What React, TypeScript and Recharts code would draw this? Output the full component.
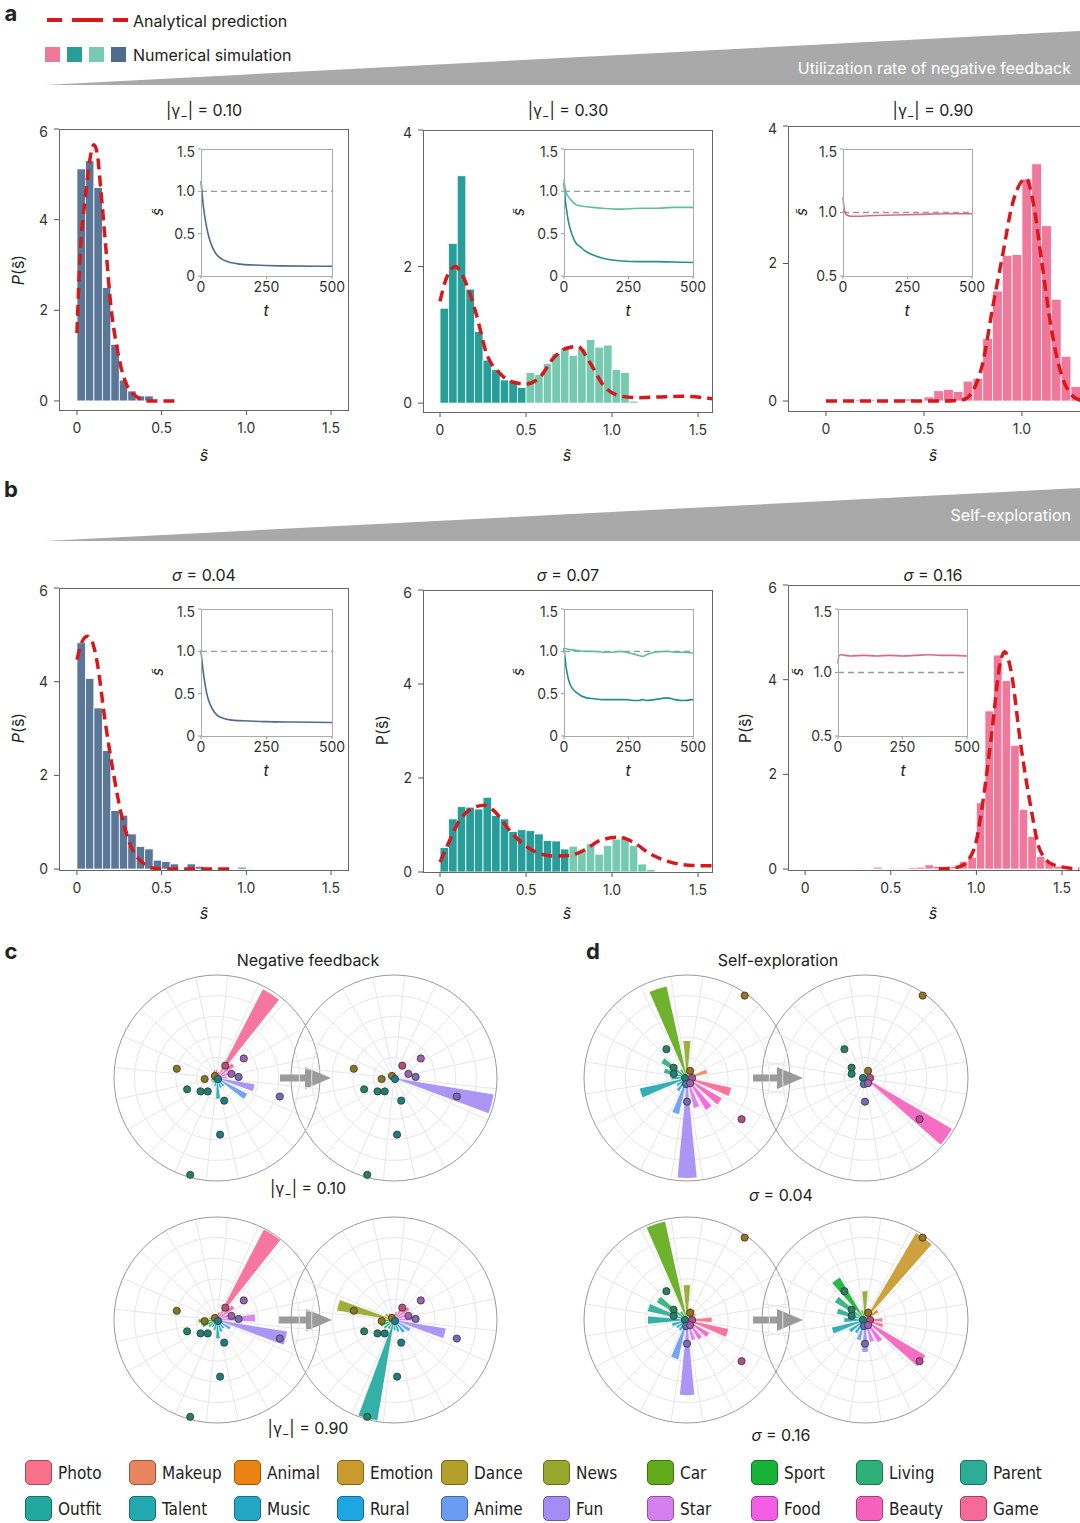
import React from 'react';
import {
  ComposedChart, Bar, Line, XAxis, YAxis, Cell, LineChart, ReferenceLine,
  RadialBarChart, RadialBar, PolarGrid, PolarAngleAxis, PolarRadiusAxis,
  ScatterChart, Scatter,
} from 'recharts';

const FONT = 'Inter, "Open Sans", sans-serif';
const NARROW = '"Liberation Sans Narrow", "DejaVu Sans Condensed", sans-serif';

const RED = '#d7191c';
const BLUE = '#5a7797';
const TEAL = '#289e9a';
const MINT = '#76cab0';
const PINK = '#f0789b';

// ---------- panel a: histograms (bin centres, heights) ----------
const A1_BINS = [0.025, 0.075, 0.125, 0.175, 0.225, 0.275, 0.325, 0.375, 0.425, 0.475];
const A1_P = [5.12, 5.3, 4.71, 2.5, 1.25, 0.46, 0.22, 0.11, 0.11, 0.02];
const A1_CURVE_X = [0, 0.02, 0.05, 0.075, 0.1, 0.12, 0.14, 0.17, 0.2, 0.235, 0.285, 0.35, 0.43, 0.5, 0.58];
const A1_CURVE_Y = [1.5, 3.3, 4.5, 5.3, 5.65, 5.45, 4.7, 3.4, 2.1, 1.2, 0.43, 0.1, 0, 0, 0];

const A2_BINS = [0.025, 0.075, 0.125, 0.175, 0.225, 0.275, 0.325, 0.375, 0.425, 0.475,
  0.525, 0.575, 0.625, 0.675, 0.725, 0.775, 0.825, 0.875, 0.925, 0.975, 1.025, 1.075, 1.125];
const A2_P = [1.39, 2.34, 3.33, 1.67, 1.05, 0.63, 0.49, 0.34, 0.33, 0.23,
  0.45, 0.42, 0.58, 0.73, 0.8, 0.7, 0.8, 0.93, 0.82, 0.85, 0.49, 0.45, 0.03];
const A2_CURVE_X = [0, 0.03, 0.06, 0.09, 0.12, 0.16, 0.21, 0.27, 0.35, 0.42, 0.5, 0.58, 0.66, 0.73, 0.8, 0.87, 0.95, 1.04, 1.14, 1.28, 1.4, 1.6];
const A2_CURVE_Y = [1.49, 1.78, 1.95, 2.0, 1.92, 1.7, 1.31, 0.73, 0.43, 0.31, 0.28, 0.38, 0.66, 0.8, 0.83, 0.6, 0.26, 0.11, 0.08, 0.09, 0.1, 0.06];

const A3_BINS = [0.175, 0.225, 0.425, 0.525, 0.575, 0.625, 0.675, 0.725, 0.775, 0.825, 0.875, 0.925, 0.975,
  1.025, 1.075, 1.125, 1.175, 1.225, 1.275, 1.325];
const A3_P = [0.02, 0.02, 0.03, 0.06, 0.15, 0.17, 0.14, 0.29, 0.33, 0.91, 1.6, 2.12, 2.13,
  3.23, 3.45, 2.55, 1.48, 0.65, 0.21, 0.06];
const A3_CURVE_X = [0, 0.3, 0.6, 0.7, 0.75, 0.8, 0.85, 0.9, 0.95, 1.0, 1.02, 1.06, 1.1, 1.15, 1.2, 1.25, 1.3];
const A3_CURVE_Y = [0, 0, 0, 0.02, 0.15, 0.55, 1.35, 2.1, 2.85, 3.2, 3.24, 2.85, 2.05, 1.05, 0.4, 0.1, 0.01];

// ---------- panel b ----------
const B1_BINS = [0.025, 0.075, 0.125, 0.175, 0.225, 0.275, 0.325, 0.375, 0.425, 0.475, 0.525,
  0.575, 0.625, 0.675, 0.725, 0.775, 0.825, 0.875, 0.925, 0.975, 1.025];
const B1_P = [4.83, 4.07, 3.44, 2.53, 1.25, 1.15, 0.75, 0.48, 0.43, 0.19, 0.16,
  0.11, 0.0, 0.11, 0.06, 0.02, 0.01, 0, 0, 0.04, 0.02];
const B1_CURVE_X = [0, 0.03, 0.06, 0.09, 0.12, 0.165, 0.215, 0.265, 0.32, 0.38, 0.45, 0.55, 0.7, 0.92];
const B1_CURVE_Y = [4.47, 4.85, 4.97, 4.85, 4.4, 3.19, 2.05, 1.12, 0.48, 0.16, 0.02, 0, 0, 0];

const B2_BINS = [0.025, 0.075, 0.125, 0.175, 0.225, 0.275, 0.325, 0.375, 0.425, 0.475, 0.525, 0.575, 0.625,
  0.675, 0.725, 0.775, 0.825, 0.875, 0.925, 0.975, 1.025, 1.075, 1.125, 1.175, 1.225];
const B2_P = [0.52, 1.13, 1.39, 1.38, 1.34, 1.59, 1.2, 1.13, 0.86, 0.9, 0.88, 0.81, 0.67, 0.66, 0.49,
  0.55, 0.47, 0.6, 0.38, 0.56, 0.7, 0.73, 0.56, 0.17, 0.05];
const B2_CURVE_X = [0, 0.056, 0.114, 0.19, 0.26, 0.33, 0.39, 0.46, 0.56, 0.66, 0.75, 0.85, 0.93, 1.04, 1.12, 1.22, 1.34, 1.47, 1.6];
const B2_CURVE_Y = [0.21, 0.67, 1.1, 1.36, 1.42, 1.24, 0.95, 0.67, 0.42, 0.34, 0.35, 0.49, 0.67, 0.74, 0.64, 0.39, 0.21, 0.14, 0.13];

const B3_BINS = [0.325, 0.425, 0.525, 0.575, 0.625, 0.675, 0.725, 0.775, 0.825, 0.875, 0.925, 0.975,
  1.025, 1.075, 1.125, 1.175, 1.225, 1.275, 1.325, 1.375, 1.425, 1.475, 1.525];
const B3_P = [0.02, 0.04, 0.02, 0.02, 0.03, 0.04, 0.09, 0.06, 0.05, 0.06, 0.16, 0.25,
  1.4, 3.34, 4.52, 3.98, 2.61, 1.26, 0.69, 0.27, 0.16, 0.06, 0.02];
const B3_CURVE_X = [0.78, 0.9, 0.955, 1.0, 1.04, 1.09, 1.14, 1.165, 1.2, 1.26, 1.32, 1.37, 1.45, 1.6];
const B3_CURVE_Y = [0, 0.05, 0.2, 0.6, 1.47, 2.88, 4.37, 4.59, 4.23, 2.6, 1.26, 0.41, 0.09, 0];

// ---------- insets: s~ over time ----------
const A1_T = [0, 5, 10, 20, 30, 45, 60, 80, 100, 150, 200, 300, 500];
const A1_S = [1.12, 0.95, 0.8, 0.6, 0.46, 0.33, 0.25, 0.2, 0.17, 0.14, 0.13, 0.12, 0.115];
const A2_T = [0, 5, 10, 16, 29, 48, 61, 80, 111, 150, 212, 300, 363, 420, 500];
const A2_S_UP = [1.14, 1.02, 0.97, 0.94, 0.89, 0.84, 0.83, 0.82, 0.81, 0.8, 0.79, 0.8, 0.8, 0.81, 0.81];
const A2_S_LO = [1.1, 0.9, 0.78, 0.66, 0.51, 0.38, 0.35, 0.3, 0.25, 0.21, 0.18, 0.17, 0.17, 0.165, 0.16];
const A3_T = [0, 3, 8, 15, 30, 60, 100, 200, 300, 400, 500];
const A3_S = [1.12, 1.05, 1.0, 0.98, 0.97, 0.97, 0.975, 0.98, 0.985, 0.99, 0.99];
const B1_T = [0, 5, 11, 20, 28, 45, 60, 85, 111, 160, 251, 350, 500];
const B1_S = [1.01, 0.85, 0.7, 0.53, 0.43, 0.31, 0.25, 0.21, 0.19, 0.18, 0.17, 0.165, 0.16];
const B2_T = [0, 8, 25, 50, 87, 115, 150, 190, 220, 240, 270, 290, 305, 320, 350, 400, 430, 460, 500];
const B2_S_UP = [1.04, 1.03, 1.02, 1.01, 1.0, 1.0, 0.99, 0.99, 1.0, 0.99, 0.97, 0.95, 0.94, 0.96, 0.99, 1.0, 0.99, 0.99, 0.98];
const B2_S_LO = [1.04, 0.82, 0.6, 0.51, 0.45, 0.44, 0.43, 0.43, 0.43, 0.43, 0.42, 0.42, 0.43, 0.42, 0.43, 0.45, 0.43, 0.42, 0.43];
const B3_T = [0, 3, 10, 50, 100, 150, 200, 250, 300, 350, 400, 450, 500];
const B3_S = [1.07, 1.13, 1.14, 1.13, 1.135, 1.13, 1.135, 1.13, 1.135, 1.14, 1.135, 1.135, 1.13];

// ---------- panels c, d: interest roses ----------
const CATS = ['Photo', 'Makeup', 'Animal', 'Emotion', 'Dance', 'News', 'Car', 'Sport', 'Living', 'Parent',
  'Outfit', 'Talent', 'Music', 'Rural', 'Anime', 'Fun', 'Star', 'Food', 'Beauty', 'Game'];
const CAT_COLORS = ['#f77189', '#e8845e', '#ec8212', '#c99a2e', '#b3a02a', '#97a82c', '#62ab1c', '#18b236', '#2fb07a', '#2cad95',
  '#22a99f', '#22a9b0', '#22a8c6', '#1ea6e2', '#6a9cf4', '#a48cf4', '#d57ff0', '#f45ee6', '#f562be', '#f56a98'];

const NF_LOW_BEFORE = [0.06, 0.08, 0.08, 0.05, 0.05, 0.05, 0.05, 0.06, 0.06, 0.06, 0.08, 0.2, 0.1, 0.1, 0.33, 0.37, 0.1, 0.14, 0.2, 0.97];
const NF_LOW_AFTER = [0.04, 0.03, 0.03, 0.04, 0.03, 0.03, 0.03, 0.03, 0.03, 0.03, 0.04, 0.04, 0.03, 0.03, 0.04, 0.98, 0.04, 0.04, 0.04, 0.04];
const NF_HIGH_BEFORE = [0.08, 0.06, 0.06, 0.06, 0.06, 0.08, 0.18, 0.15, 0.1, 0.08, 0.1, 0.18, 0.12, 0.1, 0.15, 0.69, 0.37, 0.15, 0.2, 0.99];
const NF_HIGH_AFTER = [0.08, 0.05, 0.06, 0.08, 0.1, 0.56, 0.12, 0.14, 0.12, 0.1, 0.99, 0.1, 0.12, 0.15, 0.18, 0.51, 0.2, 0.15, 0.18, 0.12];
const SE_LOW_BEFORE = [0.06, 0.2, 0.08, 0.1, 0.06, 0.36, 0.91, 0.1, 0.29, 0.23, 0.15, 0.47, 0.12, 0.15, 0.36, 0.97, 0.3, 0.36, 0.39, 0.44];
const SE_LOW_AFTER = [0.04, 0.03, 0.04, 0.08, 0.04, 0.05, 0.03, 0.03, 0.04, 0.04, 0.04, 0.04, 0.03, 0.03, 0.04, 0.04, 0.04, 0.04, 0.98, 0.04];
const SE_HIGH_BEFORE = [0.24, 0.08, 0.1, 0.12, 0.12, 0.34, 0.98, 0.1, 0.34, 0.39, 0.38, 0.15, 0.12, 0.12, 0.39, 0.73, 0.2, 0.22, 0.25, 0.41];
const SE_HIGH_AFTER = [0.17, 0.06, 0.15, 0.98, 0.12, 0.28, 0.1, 0.48, 0.34, 0.28, 0.2, 0.33, 0.18, 0.15, 0.2, 0.31, 0.22, 0.25, 0.68, 0.18];

const NF_DOT_X = [0.26, 0.08, 0.14, 0.21, -0.39, -0.12, -0.02, 0.01, -0.29, -0.16, -0.09, 0.07, 0.03, -0.26, 0.61];
const NF_DOT_Y = [0.19, 0.12, 0.04, 0.01, 0.09, -0.01, 0.02, -0.01, -0.11, -0.13, -0.13, -0.22, -0.55, -0.94, -0.18];
const NF_DOT_CAT = [16, 19, 16, 15, 4, 4, 3, 12, 8, 9, 10, 11, 11, 8, 15];
const SE_DOT_X = [0.56, -0.2, -0.13, -0.13, 0.03, -0.02, 0.05, -0.01, 0.03, 0, 0.53];
const SE_DOT_Y = [0.8, 0.28, 0.1, 0.04, 0.07, 0, 0, -0.06, -0.05, -0.23, -0.4];
const SE_DOT_CAT = [3, 8, 8, 9, 3, 10, 18, 14, 16, 15, 18];

const fmt1 = (v: number) => (v === 0 ? '0' : v.toFixed(1));

type HistSpec = {
  frame: [number, number, number, number];
  xDom: [number, number];
  xTicks: number[];
  yDom: [number, number];
  yTicks: number[];
  bins: number[];
  heights: number[];
  split: number;
  colors: [string, string];
  curveX: number[];
  curveY: number[];
};

function Hist({ spec }: { spec: HistSpec }) {
  const [l, t, r, b] = spec.frame;
  const w = r - l;
  const h = b - t;
  const PL = 45, PT = 5, PR = 5, PB = 30;
  const bars = spec.bins.map((x, i) => ({ x, p: spec.heights[i] }));
  const curve = spec.curveX.map((x, i) => ({ x, c: spec.curveY[i] }));
  // bin width (0.05) in pixels
  const barPx = (0.05 / (spec.xDom[1] - spec.xDom[0])) * w;
  const tick = { fill: '#333', fontSize: 14 };
  const binShape = (p: any) => (
    <rect x={p.x + p.width / 2 - barPx / 2} y={p.y} width={barPx} height={Math.max(0, p.height)}
      fill={p.fill} stroke="#fff" strokeWidth={0.8} />
  );
  return (
    <div style={{ position: 'absolute', left: l - PL, top: t - PT }}>
      <ComposedChart width={w + PL + PR} height={h + PT + PB} data={bars} margin={{ top: PT, right: PR, bottom: 0, left: 0 }}>
        <XAxis dataKey="x" type="number" domain={spec.xDom} allowDataOverflow ticks={spec.xTicks}
          tickFormatter={fmt1} height={PB} axisLine={false} tickSize={5} tickMargin={8} stroke="#555" tick={tick} />
        <YAxis type="number" domain={spec.yDom} allowDataOverflow ticks={spec.yTicks} width={PL}
          axisLine={false} tickSize={5} tickMargin={6} stroke="#555" tick={tick} />
        <Bar dataKey="p" isAnimationActive={false} shape={binShape}>
          {bars.map((d, i) => (
            <Cell key={i} fill={d.x < spec.split ? spec.colors[0] : spec.colors[1]} />
          ))}
        </Bar>
        <Line data={curve} dataKey="c" type="monotone" stroke={RED} strokeWidth={3.5}
          strokeDasharray="11 6" dot={false} isAnimationActive={false} />
      </ComposedChart>
      <div style={{ position: 'absolute', left: PL - 0.5, top: PT - 0.5, width: w + 1, height: h + 1,
        border: '1px solid #666', boxSizing: 'border-box', pointerEvents: 'none' }} />
    </div>
  );
}

type InsetSpec = {
  frame: [number, number, number, number];
  yDom: [number, number];
  yTicks: number[];
  t: number[];
  lines: { s: number[]; color: string }[];
};

function Inset({ spec }: { spec: InsetSpec }) {
  const [l, t, r, b] = spec.frame;
  const w = r - l;
  const h = b - t;
  const PL = 36, PT = 5, PR = 24, PB = 24;
  const rows = spec.t.map((tt, i) => {
    const row: Record<string, number> = { t: tt };
    spec.lines.forEach((ln, k) => { row['s' + k] = ln.s[i]; });
    return row;
  });
  const tick = { fill: '#333', fontSize: 14 };
  return (
    <div style={{ position: 'absolute', left: l - PL, top: t - PT }}>
      <LineChart width={w + PL + PR} height={h + PT + PB} data={rows} margin={{ top: PT, right: PR, bottom: 0, left: 0 }}>
        <XAxis dataKey="t" type="number" domain={[0, 500]} ticks={[0, 250, 500]} height={PB}
          axisLine={false} tickSize={3} tickMargin={3} stroke="#999" tick={tick} />
        <YAxis type="number" domain={spec.yDom} allowDataOverflow ticks={spec.yTicks} width={PL}
          tickFormatter={fmt1} axisLine={false} tickSize={3} tickMargin={3} stroke="#999" tick={tick} />
        <ReferenceLine y={1} stroke="#999" strokeDasharray="6 4" strokeWidth={1.3} />
        {spec.lines.map((ln, k) => (
          <Line key={k} dataKey={'s' + k} type="monotone" stroke={ln.color} strokeWidth={1.6}
            dot={false} isAnimationActive={false} />
        ))}
      </LineChart>
      <div style={{ position: 'absolute', left: PL - 0.5, top: PT - 0.5, width: w + 1, height: h + 1,
        border: '1px solid #aaa', boxSizing: 'border-box', pointerEvents: 'none' }} />
    </div>
  );
}

const R = 103;
const RINGS = [0.2, 0.4, 0.6, 0.8];

function darken(hex: string, k: number) {
  const n = parseInt(hex.slice(1), 16);
  const c = [(n >> 16) & 255, (n >> 8) & 255, n & 255].map((v) => Math.round(v * (1 - k)));
  return `rgb(${c[0]},${c[1]},${c[2]})`;
}

function Rose({ cx, cy, values, start, dx, dy, dc }: {
  cx: number; cy: number; values: number[]; start: number; dx: number[]; dy: number[]; dc: number[];
}) {
  const S = R * 2 + 2;
  const data = CATS.map((name, i) => ({ name, v: values[i] }));
  const dots = dx.map((x, i) => ({ x, y: dy[i], c: dc[i] }));
  return (
    <div style={{ position: 'absolute', left: cx - R - 1, top: cy - R - 1, width: S, height: S }}>
      <RadialBarChart width={S} height={S} data={data} layout="centric" cx={R + 1} cy={R + 1}
        innerRadius={0} outerRadius={R} startAngle={start} endAngle={start + 360}
        barCategoryGap="20%" margin={{ top: 0, right: 0, bottom: 0, left: 0 }}>
        <PolarGrid gridType="circle" stroke="#e7e7ea" polarRadius={RINGS.map((f) => f * R)} />
        <PolarGrid gridType="circle" stroke="#9a9a9a" radialLines={false} polarRadius={[R]} />
        <PolarAngleAxis type="category" dataKey="name" tick={false} axisLine={false} />
        <PolarRadiusAxis type="number" domain={[0, 1]} tick={false} axisLine={false} />
        <RadialBar dataKey="v" isAnimationActive={false}>
          {data.map((d, i) => <Cell key={i} fill={CAT_COLORS[i]} fillOpacity={0.92} />)}
        </RadialBar>
      </RadialBarChart>
      <div style={{ position: 'absolute', left: 0, top: 0 }}>
        <ScatterChart width={S} height={S} margin={{ top: 1, right: 1, bottom: 1, left: 1 }}>
          <XAxis type="number" dataKey="x" domain={[-1, 1]} hide />
          <YAxis type="number" dataKey="y" domain={[-1, 1]} hide />
          <Scatter data={dots} isAnimationActive={false}
            shape={(p: any) => <circle cx={p.cx} cy={p.cy} r={3.6} fill={p.fill} stroke="#333" strokeWidth={0.8} />}>
            {dots.map((d, i) => <Cell key={i} fill={darken(CAT_COLORS[d.c], 0.25)} />)}
          </Scatter>
        </ScatterChart>
      </div>
    </div>
  );
}

function Txt({ x, y, size = 16, children, style }: {
  x: number; y: number; size?: number; children: React.ReactNode; style?: React.CSSProperties;
}) {
  return (
    <div style={{ position: 'absolute', left: x, top: y, transform: 'translate(-50%, -50%)', fontSize: size,
      whiteSpace: 'nowrap', lineHeight: 1, ...style }}>
      {children}
    </div>
  );
}

const Gam = ({ v }: { v: string }) => (<span>|γ<sub style={{ fontSize: '0.7em' }}>−</sub>| = {v}</span>);
const STILDE = 's\u0303';

function Arrow({ x1, x2, y }: { x1: number; x2: number; y: number }) {
  return (
    <g fill="#9b9b9b">
      <rect x={x1} y={y - 3.5} width={x2 - x1 - 24} height={7} />
      <polygon points={`${x2 - 26},${y - 11} ${x2},${y} ${x2 - 26},${y + 11}`} />
    </g>
  );
}

const A_SPECS: HistSpec[] = [
  { frame: [59, 129, 348, 410], xDom: [-0.106, 1.6], xTicks: [0, 0.5, 1, 1.5], yDom: [-0.2, 6], yTicks: [0, 2, 4, 6],
    bins: A1_BINS, heights: A1_P, split: 9, colors: [BLUE, BLUE], curveX: A1_CURVE_X, curveY: A1_CURVE_Y },
  { frame: [423, 130, 712, 412], xDom: [-0.099, 1.581], xTicks: [0, 0.5, 1, 1.5], yDom: [-0.13, 4], yTicks: [0, 2, 4],
    bins: A2_BINS, heights: A2_P, split: 0.5, colors: [TEAL, MINT], curveX: A2_CURVE_X, curveY: A2_CURVE_Y },
  { frame: [788, 126, 1086, 411], xDom: [-0.194, 1.327], xTicks: [0, 0.5, 1], yDom: [-0.145, 4], yTicks: [0, 2, 4],
    bins: A3_BINS, heights: A3_P, split: 9, colors: [PINK, PINK], curveX: A3_CURVE_X, curveY: A3_CURVE_Y },
];
const B_SPECS: HistSpec[] = [
  { frame: [59, 588, 348, 870], xDom: [-0.106, 1.6], xTicks: [0, 0.5, 1, 1.5], yDom: [-0.02, 6], yTicks: [0, 2, 4, 6],
    bins: B1_BINS, heights: B1_P, split: 9, colors: [BLUE, BLUE], curveX: B1_CURVE_X, curveY: B1_CURVE_Y },
  { frame: [423, 590, 712, 872], xDom: [-0.099, 1.581], xTicks: [0, 0.5, 1, 1.5], yDom: [0, 6], yTicks: [0, 2, 4, 6],
    bins: B2_BINS, heights: B2_P, split: 0.75, colors: [TEAL, MINT], curveX: B2_CURVE_X, curveY: B2_CURVE_Y },
  { frame: [788, 585, 1086, 870], xDom: [-0.1, 1.64], xTicks: [0, 0.5, 1, 1.5], yDom: [-0.02, 6], yTicks: [0, 2, 4, 6],
    bins: B3_BINS, heights: B3_P, split: 9, colors: [PINK, PINK], curveX: B3_CURVE_X, curveY: B3_CURVE_Y },
];

const INSETS: InsetSpec[] = [
  { frame: [201, 149, 332, 276], yDom: [0, 1.5], yTicks: [0, 0.5, 1, 1.5], t: A1_T, lines: [{ s: A1_S, color: '#4f6b8c' }] },
  { frame: [564, 149, 693, 276], yDom: [0, 1.5], yTicks: [0, 0.5, 1, 1.5], t: A2_T,
    lines: [{ s: A2_S_UP, color: '#5cbf9f' }, { s: A2_S_LO, color: '#22918d' }] },
  { frame: [843, 149, 972, 276], yDom: [0.5, 1.5], yTicks: [0.5, 1, 1.5], t: A3_T, lines: [{ s: A3_S, color: '#d9688b' }] },
  { frame: [201, 609, 332, 736], yDom: [0, 1.5], yTicks: [0, 0.5, 1, 1.5], t: B1_T, lines: [{ s: B1_S, color: '#4f6b8c' }] },
  { frame: [564, 609, 693, 736], yDom: [0, 1.5], yTicks: [0, 0.5, 1, 1.5], t: B2_T,
    lines: [{ s: B2_S_UP, color: '#5cbf9f' }, { s: B2_S_LO, color: '#22918d' }] },
  { frame: [838, 609, 967, 736], yDom: [0.5, 1.5], yTicks: [0.5, 1, 1.5], t: B3_T, lines: [{ s: B3_S, color: '#d9688b' }] },
];

// band starts of the category angle axis (Photo band centred at 75° in c, at 0° in d)
const NF_START = 84;
const SE_START = 9;

export default function App() {
  const legendX = [25, 129, 234, 337, 441, 543, 647, 751, 856, 960];
  return (
    <div style={{ position: 'absolute', left: 0, top: 0, width: 1080, height: 1523, overflow: 'hidden',
      background: '#fff', fontFamily: FONT, color: '#222' }}>
      <svg width={1080} height={1523} style={{ position: 'absolute', left: 0, top: 0 }}>
        <polygon points="45,85 1080,31 1080,85" fill="#a9a9aa" />
        <polygon points="45,541 1080,488 1080,541" fill="#a9a9aa" />
        <line x1={47} x2={128} y1={20} y2={20} stroke={RED} strokeWidth={4} strokeDasharray="31 10" strokeDashoffset={16} />
        {[PINK, TEAL, MINT, '#4e6c90'].map((c, i) => (
          <rect key={i} x={45 + i * 22} y={47} width={15} height={15} fill={c} />
        ))}
        <Arrow x1={280} x2={331} y={1078} />
        <Arrow x1={753} x2={803} y={1078} />
        <Arrow x1={278} x2={332} y={1320} />
        <Arrow x1={753} x2={803} y={1320} />
      </svg>

      <Txt x={11} y={13} size={22} style={{ fontWeight: 700 }}>a</Txt>
      <Txt x={11} y={489} size={22} style={{ fontWeight: 700 }}>b</Txt>
      <Txt x={11} y={951} size={22} style={{ fontWeight: 700 }}>c</Txt>
      <Txt x={593} y={951} size={22} style={{ fontWeight: 700 }}>d</Txt>

      <div style={{ position: 'absolute', left: 133, top: 11, fontSize: 16 }}>Analytical prediction</div>
      <div style={{ position: 'absolute', left: 133, top: 45, fontSize: 16 }}>Numerical simulation</div>
      <div style={{ position: 'absolute', right: 9, top: 58, fontSize: 16, color: '#fff' }}>Utilization rate of negative feedback</div>
      <div style={{ position: 'absolute', right: 9, top: 505, fontSize: 16, color: '#fff' }}>Self-exploration</div>

      {A_SPECS.map((s, i) => <Hist key={'a' + i} spec={s} />)}
      {B_SPECS.map((s, i) => <Hist key={'b' + i} spec={s} />)}
      {INSETS.map((s, i) => <Inset key={'i' + i} spec={s} />)}

      <Txt x={204} y={112} size={16}><Gam v="0.10" /></Txt>
      <Txt x={568} y={112} size={16}><Gam v="0.30" /></Txt>
      <Txt x={933} y={112} size={16}><Gam v="0.90" /></Txt>
      <Txt x={204} y={575} size={16}><i>σ</i> = 0.04</Txt>
      <Txt x={568} y={575} size={16}><i>σ</i> = 0.07</Txt>
      <Txt x={933} y={575} size={16}><i>σ</i> = 0.16</Txt>

      {[204, 567, 933].map((x) => <Txt key={'xa' + x} x={x} y={455} size={16}><i>{STILDE}</i></Txt>)}
      {[204, 567, 933].map((x) => <Txt key={'xb' + x} x={x} y={913} size={16}><i>{STILDE}</i></Txt>)}
      <Txt x={18} y={270} size={16} style={{ transform: 'translate(-50%, -50%) rotate(-90deg)' }}><i>P</i>({STILDE})</Txt>
      <Txt x={18} y={728} size={16} style={{ transform: 'translate(-50%, -50%) rotate(-90deg)' }}><i>P</i>({STILDE})</Txt>
      <Txt x={382} y={730} size={16} style={{ transform: 'translate(-50%, -50%) rotate(-90deg)' }}>P({STILDE})</Txt>
      <Txt x={745} y={728} size={16} style={{ transform: 'translate(-50%, -50%) rotate(-90deg)' }}>P({STILDE})</Txt>

      {[[157, 212], [518, 212], [801, 212], [157, 672], [518, 672], [797, 672]].map(([x, y]) => (
        <Txt key={'sl' + x + y} x={x} y={y} size={15} style={{ transform: 'translate(-50%, -50%) rotate(-90deg)' }}>
          <i>{STILDE}</i>
        </Txt>
      ))}
      {[[266, 310], [628, 310], [907, 310], [266, 770], [628, 770], [903, 770]].map(([x, y]) => (
        <Txt key={'tl' + x + y} x={x} y={y} size={16}><i>t</i></Txt>
      ))}

      <Txt x={308} y={960} size={16}>Negative feedback</Txt>
      <Txt x={778} y={960} size={16}>Self-exploration</Txt>
      <Rose cx={217} cy={1078} values={NF_LOW_BEFORE} start={NF_START} dx={NF_DOT_X} dy={NF_DOT_Y} dc={NF_DOT_CAT} />
      <Rose cx={394} cy={1078} values={NF_LOW_AFTER} start={NF_START} dx={NF_DOT_X} dy={NF_DOT_Y} dc={NF_DOT_CAT} />
      <Rose cx={217} cy={1320} values={NF_HIGH_BEFORE} start={NF_START} dx={NF_DOT_X} dy={NF_DOT_Y} dc={NF_DOT_CAT} />
      <Rose cx={394} cy={1320} values={NF_HIGH_AFTER} start={NF_START} dx={NF_DOT_X} dy={NF_DOT_Y} dc={NF_DOT_CAT} />
      <Rose cx={687} cy={1078} values={SE_LOW_BEFORE} start={SE_START} dx={SE_DOT_X} dy={SE_DOT_Y} dc={SE_DOT_CAT} />
      <Rose cx={865} cy={1078} values={SE_LOW_AFTER} start={SE_START} dx={SE_DOT_X} dy={SE_DOT_Y} dc={SE_DOT_CAT} />
      <Rose cx={687} cy={1320} values={SE_HIGH_BEFORE} start={SE_START} dx={SE_DOT_X} dy={SE_DOT_Y} dc={SE_DOT_CAT} />
      <Rose cx={865} cy={1320} values={SE_HIGH_AFTER} start={SE_START} dx={SE_DOT_X} dy={SE_DOT_Y} dc={SE_DOT_CAT} />
      <Txt x={308} y={1190} size={16}><Gam v="0.10" /></Txt>
      <Txt x={308} y={1430} size={16}><Gam v="0.90" /></Txt>
      <Txt x={781} y={1195} size={16}><i>σ</i> = 0.04</Txt>
      <Txt x={781} y={1435} size={16}><i>σ</i> = 0.16</Txt>

      {CATS.map((name, i) => {
        const x = legendX[i % 10];
        const y = i < 10 ? 1460 : 1496;
        return (
          <div key={name} style={{ position: 'absolute', left: x, top: y, display: 'flex', alignItems: 'center', height: 25 }}>
            <div style={{ width: 27, height: 25, borderRadius: 5, background: CAT_COLORS[i],
              border: `1px solid ${darken(CAT_COLORS[i], 0.35)}`, boxSizing: 'border-box' }} />
            <span style={{ marginLeft: 6, fontSize: 17, fontFamily: NARROW }}>{name}</span>
          </div>
        );
      })}
    </div>
  );
}
